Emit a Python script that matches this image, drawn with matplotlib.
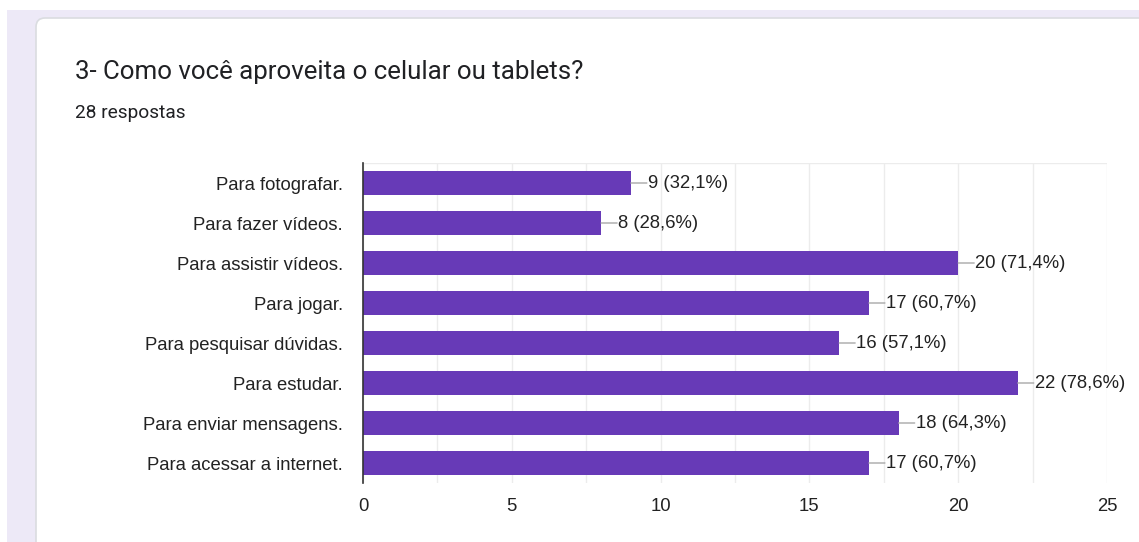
import matplotlib.pyplot as plt
from matplotlib.patches import Rectangle, FancyBboxPatch
from matplotlib.transforms import IdentityTransform
from matplotlib.ticker import MultipleLocator

title = "3- Como você aproveita o celular ou tablets?"
subtitle = "28 respostas"
total = 28

categories = [
    "Para fotografar.",
    "Para fazer vídeos.",
    "Para assistir vídeos.",
    "Para jogar.",
    "Para pesquisar dúvidas.",
    "Para estudar.",
    "Para enviar mensagens.",
    "Para acessar a internet.",
]
counts = [9, 8, 20, 17, 16, 22, 18, 17]

bar_color = "#673ab7"
text_color = "#222222"
fs = 13.3

plt.rcParams["font.family"] = ["Liberation Sans", "DejaVu Sans"]

W, H = 1139, 542
fig = plt.figure(figsize=(W / 100, H / 100), dpi=100)
fig.patch.set_facecolor("white")

# page background and the white card with a rounded corner
fig.patches.append(Rectangle((7, 0), W, H - 10, transform=IdentityTransform(),
                             facecolor="#ede9f7", edgecolor="none", zorder=0))
fig.patches.append(FancyBboxPatch((36, -30), W + 40, H - 18 + 30,
                                  boxstyle="round,pad=0,rounding_size=9",
                                  transform=IdentityTransform(),
                                  facecolor="white", edgecolor="#dadce0",
                                  linewidth=1.2, zorder=1))

fig.text(75 / W, 1 - 72 / H, title, fontsize=18.6, family="Roboto",
         color="#202124", va="center", ha="left")
fig.text(75 / W, 1 - 113 / H, subtitle, fontsize=13.8, family="Roboto",
         color="#202124", va="center", ha="left")

ax = fig.add_axes([363 / W, 59 / H, 744 / W, 320 / H])
ax.set_facecolor("none")
ax.set_zorder(2)

y = list(range(len(categories)))
ax.barh(y, counts, height=0.62, color=bar_color, zorder=3)

for yi, c in zip(y, counts):
    ax.annotate("", xy=(c, yi), xytext=(16, 0), textcoords="offset pixels",
                arrowprops=dict(arrowstyle="-", color="#a8a8a8", lw=1.0,
                                shrinkA=0, shrinkB=0))
    pct = f"{c / total * 100:.1f}".replace(".", ",")
    ax.annotate(f"{c} ({pct}%)", xy=(c, yi), xytext=(17, -1),
                textcoords="offset pixels", va="center", ha="left",
                fontsize=fs, color=text_color)

ax.set_xlim(0, 25)
ax.set_ylim(len(categories) - 0.5, -0.5)
ax.set_yticks(y)
ax.set_yticklabels(categories, fontsize=fs, color=text_color)
ax.xaxis.set_major_locator(MultipleLocator(5))
ax.xaxis.set_minor_locator(MultipleLocator(2.5))
ax.tick_params(axis="x", which="both", length=0, labelsize=fs,
               labelcolor=text_color, pad=10.5)
ax.tick_params(axis="y", length=0, pad=14.4)
ax.grid(axis="x", which="both", color="#ececec", lw=1, zorder=0)

for side in ["top", "right", "bottom"]:
    ax.spines[side].set_visible(False)
ax.spines["left"].set_color("#333333")
ax.spines["left"].set_linewidth(1.2)
ax.spines["left"].set_zorder(4)
ax.axhline(-0.5, color="#ececec", lw=1, zorder=0)

fig.savefig("out.png", dpi=100)
